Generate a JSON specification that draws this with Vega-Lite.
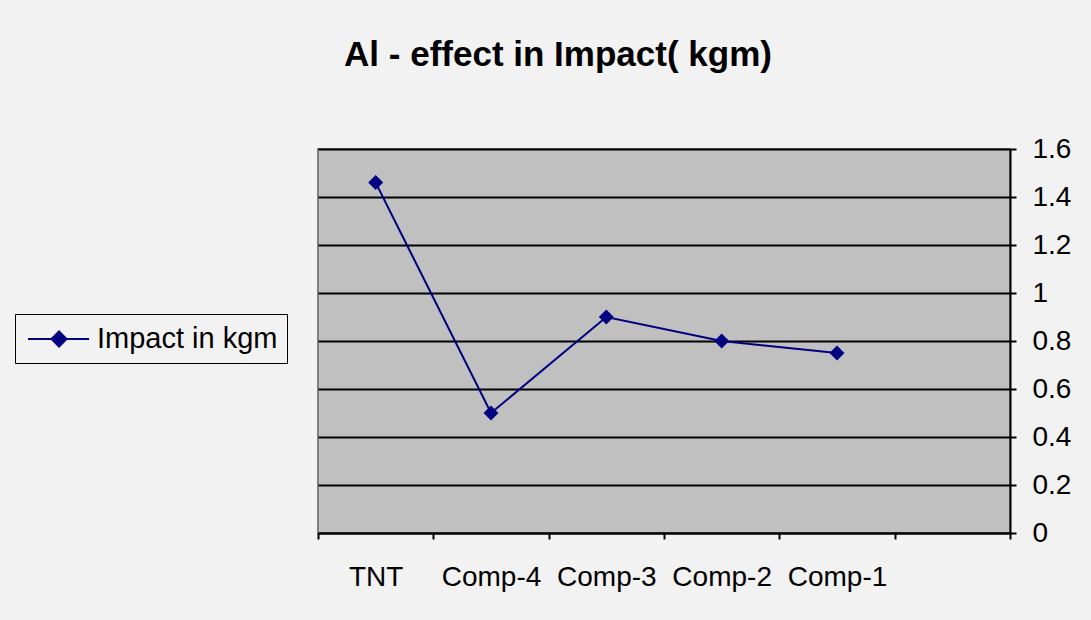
{
  "$schema": "https://vega.github.io/schema/vega-lite/v6.json",
  "width": 692,
  "height": 384,
  "autosize": {"type": "none"},
  "padding": {"left": 318, "top": 149, "right": 81, "bottom": 87},
  "background": "#F2F2F2",
  "title": {
    "text": "Al - effect in Impact( kgm)",
    "font": "Liberation Sans",
    "fontSize": 35,
    "fontWeight": "bold",
    "color": "#000000",
    "anchor": "middle",
    "baseline": "alphabetic",
    "offset": 34,
    "dx": -106
  },
  "data": {
    "values": [
      {"cat": "TNT", "value": 1.46, "series": "Impact in kgm"},
      {"cat": "Comp-4", "value": 0.5, "series": "Impact in kgm"},
      {"cat": "Comp-3", "value": 0.9, "series": "Impact in kgm"},
      {"cat": "Comp-2", "value": 0.8, "series": "Impact in kgm"},
      {"cat": "Comp-1", "value": 0.75, "series": "Impact in kgm"}
    ]
  },
  "mark": {
    "type": "line",
    "strokeWidth": 2,
    "point": {"shape": "diamond", "size": 225, "filled": true, "opacity": 1}
  },
  "encoding": {
    "x": {
      "field": "cat",
      "type": "nominal",
      "bandPosition": 0.5,
      "sort": null,
      "scale": {"type": "band", "domain": ["TNT", "Comp-4", "Comp-3", "Comp-2", "Comp-1", "_"], "paddingInner": 0, "paddingOuter": 0},
      "axis": {
        "title": null,
        "labelAngle": 0,
        "tickBand": "extent",
        "labelExpr": "datum.value === '_' ? '' : datum.label",
        "labelFont": "Liberation Sans",
        "labelFontSize": 28,
        "labelColor": "#000000",
        "labelPadding": 24,
        "domainColor": "#000000",
        "domainWidth": 2,
        "tickColor": "#000000",
        "tickWidth": 2,
        "tickSize": 6,
        "grid": false
      }
    },
    "y": {
      "field": "value",
      "type": "quantitative",
      "scale": {"domain": [0, 1.6], "nice": false},
      "axis": {
        "orient": "right",
        "title": null,
        "values": [0, 0.2, 0.4, 0.6, 0.8, 1, 1.2, 1.4, 1.6],
        "format": "~g",
        "labelFont": "Liberation Sans",
        "labelFontSize": 28,
        "labelColor": "#000000",
        "labelPadding": 16,
        "labelFlush": false,
        "labelOverlap": false,
        "domainColor": "#000000",
        "domainWidth": 2,
        "tickColor": "#000000",
        "tickWidth": 2,
        "tickSize": 6,
        "grid": true,
        "gridColor": "#000000",
        "gridWidth": 2,
        "gridOpacity": 1
      }
    },
    "color": {
      "field": "series",
      "type": "nominal",
      "scale": {"domain": ["Impact in kgm"], "range": ["#000080"]},
      "legend": {
        "title": null,
        "orient": "none",
        "legendX": -303,
        "legendY": 165,
        "padding": 9,
        "strokeColor": "#000000",
        "fillColor": "#F2F2F2",
        "labelFont": "Liberation Sans",
        "labelFontSize": 29,
        "labelColor": "#000000",
        "labelOffset": 41,
        "labelLimit": 400,
        "symbolType": "M-0.8,0L3.27,0M1.27,-0.5L1.77,0L1.27,0.5L0.77,0Z",
        "symbolSize": 900,
        "symbolStrokeWidth": 2,
        "symbolFillColor": "#000080",
        "symbolStrokeColor": "#000080",
        "symbolOpacity": 1
      }
    }
  },
  "config": {
    "view": {"fill": "#C0C0C0", "stroke": "#808080", "strokeWidth": 2}
  }
}
